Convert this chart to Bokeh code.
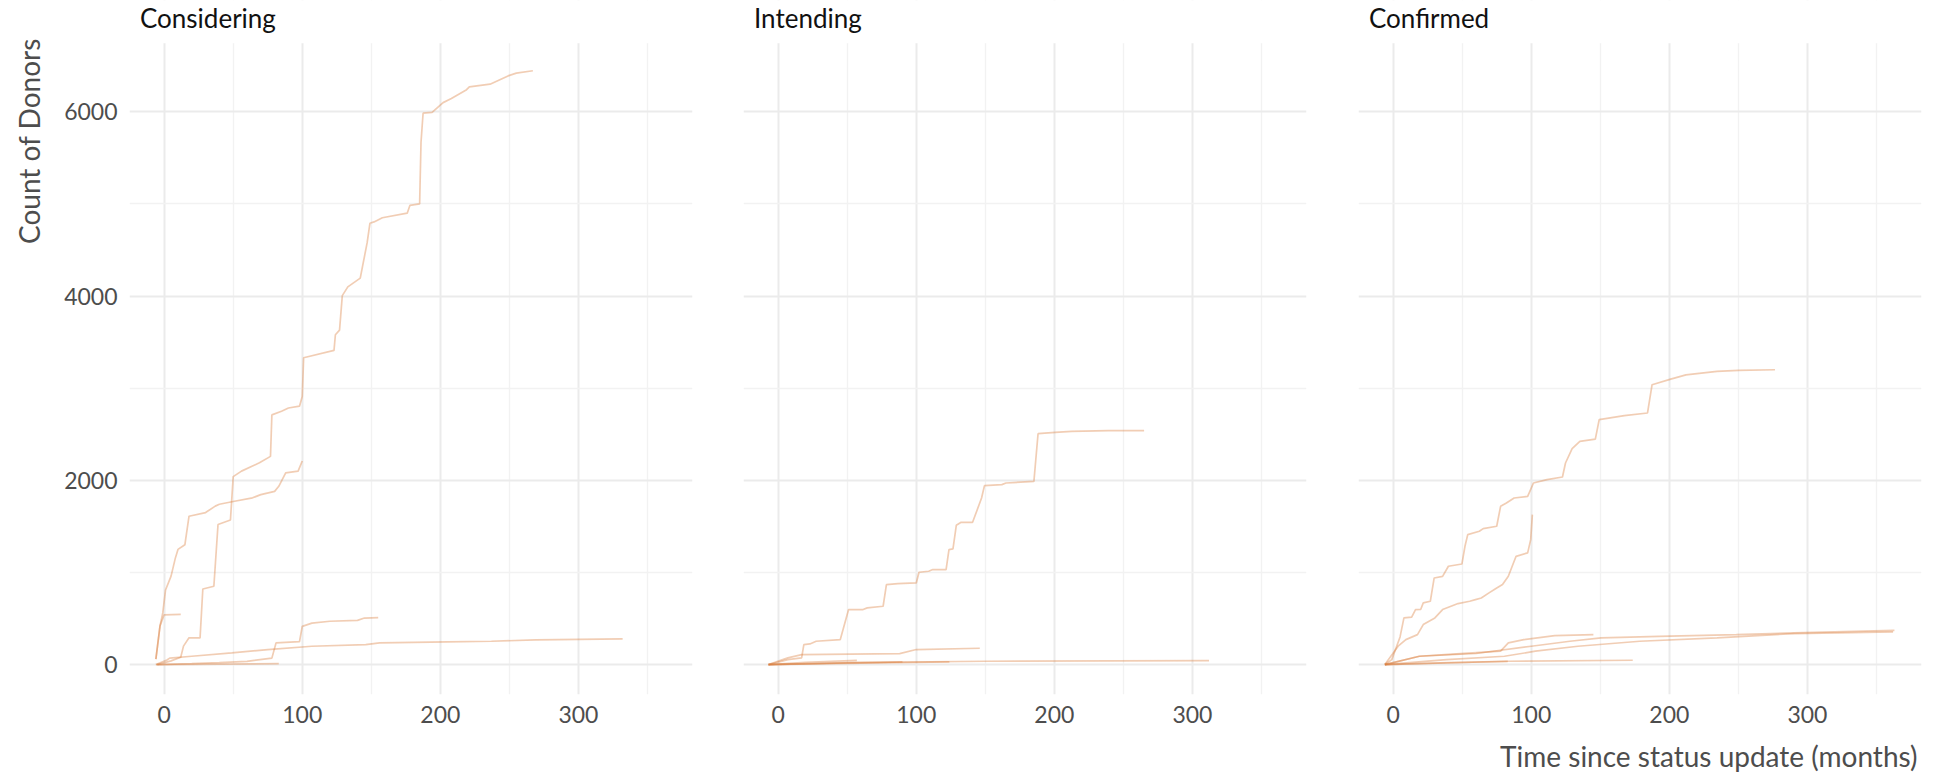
import math
from bokeh.plotting import figure
from bokeh.layouts import row, column
from bokeh.models import FixedTicker, Range1d, Label, BoxAnnotation
from bokeh.embed import file_html
from bokeh.resources import INLINE

# ---------------- data ----------------
panel_names = ["Considering", "Intending", "Confirmed"]
x_ticks = [0, 100, 200, 300]
x_minor = [50, 150, 250, 350]
y_ticks = [0, 2000, 4000, 6000]
y_minor = [1000, 3000, 5000]
x_title = "Time since status update (months)"
y_title = "Count of Donors"

# Considering
cons_a_x = [-5, 5, 12, 14, 18, 26, 28, 36, 39, 48, 50, 56, 69, 77, 78, 85, 90, 98, 100, 101, 123, 124, 127, 129, 133, 142, 147, 149, 152, 158, 176, 178, 185, 186, 187.5, 194, 202, 208, 219, 221, 236, 249, 255, 267]
cons_a_y = [0, 40, 80, 200, 290, 290, 820, 850, 1520, 1570, 2040, 2100, 2190, 2260, 2710, 2750, 2785, 2805, 2910, 3330, 3410, 3580, 3630, 4005, 4100, 4195, 4580, 4790, 4805, 4850, 4900, 4985, 5000, 5670, 5985, 5995, 6100, 6145, 6240, 6270, 6300, 6390, 6420, 6446]
cons_b_x = [-6, -3, -1, 1, 5, 8, 10, 15, 18, 30, 37, 40, 50, 64, 70, 80, 83, 88, 97, 100]
cons_b_y = [60, 420, 560, 810, 960, 1150, 1250, 1300, 1610, 1650, 1720, 1740, 1770, 1810, 1845, 1880, 1935, 2080, 2100, 2210]
cons_c_x = [-6, -3, 0, 12]
cons_c_y = [60, 420, 540, 545]
cons_d_x = [-5, 20, 40, 60, 78, 81, 98, 100, 107, 120, 140, 145, 155]
cons_d_y = [0, 10, 20, 35, 70, 235, 250, 415, 450, 470, 480, 505, 510]
cons_e_x = [-6, 2, 4, 20, 49, 75, 107, 146, 156, 205, 237, 269, 332]
cons_e_y = [0, 50, 70, 90, 127, 163, 199, 217, 235, 246, 253, 268, 278]
cons_f_x = [-6, 40, 83]
cons_f_y = [0, 5, 10]

# Intending
int_a_x = [-7, 7, 17, 18.6, 23, 27.5, 45, 51, 61.5, 64.5, 76, 78.4, 86.7, 100, 102, 109, 112, 121.6, 123.7, 126.6, 129, 132.5, 140.8, 147.3, 149.4, 162, 165, 185.2, 188.2, 200.6, 212.4, 239, 265]
int_a_y = [0, 54, 72, 217, 224, 253, 271, 597, 597, 615, 633, 868, 879, 886, 1002, 1013, 1031, 1031, 1248, 1255, 1512, 1544, 1544, 1808, 1942, 1953, 1971, 1989, 2506, 2521, 2532, 2539, 2540]
int_b_x = [-7, 7, 17, 88, 100, 146]
int_b_y = [0, 72, 108, 119, 163, 177]
int_c_x = [-7, 50, 150, 312]
int_c_y = [0, 20, 36, 43]
int_d_x = [-7, 20, 57]
int_d_y = [0, 25, 45]
int_e_x = [-7, 60, 124]
int_e_y = [0, 15, 29]
int_f_x = [-7, 50, 90]
int_f_y = [0, 18, 30]

# Confirmed
conf_a_x = [-6, -1, 5, 7.8, 13.4, 16.2, 20, 21.8, 26.9, 29.7, 35.8, 40, 49.8, 52, 54, 62.4, 65.2, 75, 77.8, 82, 87.6, 97.4, 101.6, 111.4, 122.6, 124.8, 129.6, 135.2, 146.4, 149.2, 167.4, 184.2, 187.5, 201, 212, 234.5, 250, 276.5]
conf_a_y = [0, 54, 300, 506, 514, 597, 600, 669, 687, 940, 958, 1067, 1092, 1284, 1410, 1447, 1476, 1501, 1718, 1754, 1808, 1826, 1971, 2007, 2036, 2188, 2344, 2423, 2448, 2658, 2702, 2731, 3038, 3098, 3145, 3182, 3193, 3200]
conf_b_x = [-6, 3.6, 9.2, 17.6, 21.8, 30.2, 35.8, 47, 55.4, 59.6, 63.8, 69.4, 75, 79.2, 83.4, 87.6, 89, 97.4, 99.6, 100.8]
conf_b_y = [0, 199, 271, 325, 434, 506, 597, 662, 687, 705, 723, 778, 832, 868, 958, 1121, 1175, 1212, 1356, 1627]
conf_c_x = [-6, 19, 40, 77.8, 83.4, 94.6, 117, 145]
conf_c_y = [0, 90, 110, 145, 235, 271, 315, 325]
conf_d_x = [-6, 19, 60, 100, 128, 150.6, 192.6, 248.5, 290.5, 363]
conf_d_y = [0, 90, 120, 199, 253, 289, 307, 325, 344, 372]
conf_e_x = [-6, 38.6, 80.6, 103, 133.8, 178.6, 234.5, 290.5, 362]
conf_e_y = [0, 54, 90, 145, 199, 253, 289, 336, 354]
conf_f_x = [-6, 83.4, 173.5]
conf_f_y = [0, 36, 47]
conf_g_x = [-6, 40, 83]
conf_g_y = [0, 20, 35]

panels = [
    [(cons_a_x, cons_a_y), (cons_b_x, cons_b_y), (cons_c_x, cons_c_y),
     (cons_d_x, cons_d_y), (cons_e_x, cons_e_y), (cons_f_x, cons_f_y)],
    [(int_a_x, int_a_y), (int_b_x, int_b_y), (int_c_x, int_c_y),
     (int_d_x, int_d_y), (int_e_x, int_e_y), (int_f_x, int_f_y)],
    [(conf_a_x, conf_a_y), (conf_b_x, conf_b_y), (conf_c_x, conf_c_y),
     (conf_d_x, conf_d_y), (conf_e_x, conf_e_y), (conf_f_x, conf_f_y),
     (conf_g_x, conf_g_y)],
]

# ---------------- style ----------------
FONT = "Lato"
LINE_COLOR = "#D97B3A"
GRID_MAJOR = "#ebebeb"
GRID_MINOR = "#f2f2f2"
TEXT_GREY = "#4d4d4d"
PAGE_W, PAGE_H = 1936, 773
XT_H = 37                        # strip holding the x-axis title
H = PAGE_H - XT_H                # height of the panel figures
BOTTOM = 42
FRAME_H = H - BOTTOM             # frame runs from the canvas top to the x axis
PANEL_TOP_PX = 42.7              # where the gridded panel area starts
X_RANGE = (-25.1, 382.6)
Y_LO, Y_HI = -325, 6745
Y_TOP = Y_HI + PANEL_TOP_PX * (Y_HI - Y_LO) / (FRAME_H - PANEL_TOP_PX)
YT_W = 60                        # strip holding the y-axis title

widths = [683, 615, 578]
lefts = [69, 0, 0]
rights = [51, 52, 15]


def text_strip(w, h):
    f = figure(width=w, height=h, x_range=Range1d(0, w), y_range=Range1d(0, h),
               output_backend="svg", toolbar_location=None,
               x_axis_location=None, y_axis_location=None,
               min_border=0, min_border_left=0, min_border_right=0,
               min_border_top=0, min_border_bottom=0)
    f.outline_line_color = None
    f.grid.visible = False
    f.background_fill_color = "white"
    f.border_fill_color = "white"
    return f


# y-axis title strip
yfig = text_strip(YT_W, H)
yfig.add_layout(Label(x=28, y=H - 79.7, x_units="screen", y_units="screen",
                      text=y_title, angle=math.pi / 2, text_align="right",
                      text_baseline="alphabetic", text_font=FONT,
                      text_font_size="28px", text_color=TEXT_GREY))

figs = []
for i, name in enumerate(panel_names):
    kw = {}
    if i > 0:
        kw["y_axis_location"] = None
    p = figure(width=widths[i], height=H,
               x_range=Range1d(*X_RANGE), y_range=Range1d(Y_LO, Y_TOP),
               output_backend="svg", toolbar_location=None,
               min_border_left=lefts[i], min_border_right=rights[i],
               min_border_top=0, min_border_bottom=BOTTOM, **kw)
    p.outline_line_color = None
    p.background_fill_color = "white"
    p.border_fill_color = "white"

    xt = FixedTicker(ticks=x_ticks, minor_ticks=x_minor)
    yt = FixedTicker(ticks=y_ticks, minor_ticks=y_minor)
    p.xaxis.ticker = xt
    p.xgrid.ticker = xt
    p.ygrid.ticker = yt
    for g in (p.xgrid, p.ygrid):
        g.grid_line_color = GRID_MAJOR
        g.grid_line_width = 2
        g.minor_grid_line_color = GRID_MINOR
        g.minor_grid_line_width = 1.3

    ax = p.xaxis
    ax.axis_line_color = None
    ax.major_tick_line_color = None
    ax.minor_tick_line_color = None
    ax.major_tick_out = 0
    ax.major_tick_in = 0
    ax.minor_tick_out = 0
    ax.minor_tick_in = 0
    ax.major_label_text_font = FONT
    ax.major_label_text_font_size = "23px"
    ax.major_label_text_color = TEXT_GREY
    ax.major_label_standoff = 11

    if i == 0:
        ay = p.yaxis
        ay.ticker = yt
        ay.axis_line_color = None
        ay.major_tick_line_color = None
        ay.minor_tick_line_color = None
        ay.major_tick_out = 0
        ay.major_tick_in = 0
        ay.minor_tick_out = 0
        ay.minor_tick_in = 0
        ay.major_label_text_font = FONT
        ay.major_label_text_font_size = "23px"
        ay.major_label_text_color = TEXT_GREY
        ay.major_label_standoff = 12

    # blank strip above the panel (hides the grid there) with the facet title
    p.add_layout(BoxAnnotation(bottom=Y_HI, fill_color="white", fill_alpha=1.0,
                               line_color=None, level="annotation"))
    strip = Label(x=10.5, y=FRAME_H - 17.3, x_units="screen", y_units="screen",
                  text=name, text_align="left", text_baseline="alphabetic",
                  text_font=FONT, text_font_size="26px", text_color="#111111")
    p.add_layout(strip)

    for xs, ys in panels[i]:
        p.line(xs, ys, line_color=LINE_COLOR, line_alpha=0.38, line_width=1.7)

    figs.append(p)

# x-axis title strip (right-aligned with the last panel)
xfig = text_strip(PAGE_W, XT_H)
xfig.add_layout(Label(x=1917, y=17.3, x_units="screen", y_units="screen",
                      text=x_title, text_align="right", text_baseline="alphabetic",
                      text_font=FONT, text_font_size="28px", text_color=TEXT_GREY))

layout = column(row(yfig, *figs), xfig)
open("out.html", "w").write(file_html(layout, INLINE))
